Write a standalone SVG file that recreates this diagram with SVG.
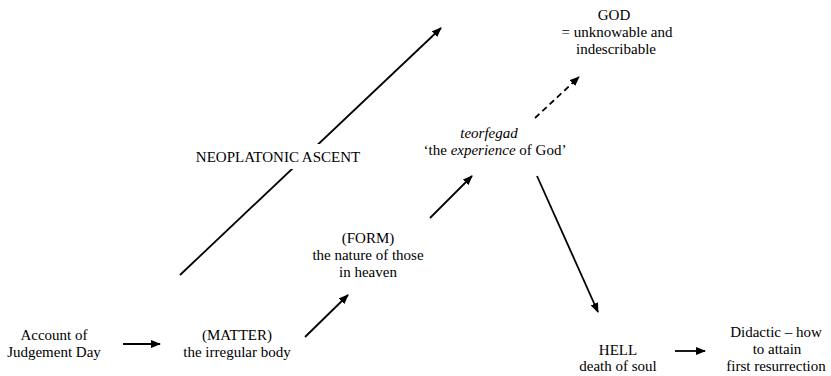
<svg xmlns="http://www.w3.org/2000/svg" width="831" height="376" viewBox="0 0 831 376">
<style>
.c line{stroke:#000;stroke-width:1.8;fill:none}
.dash{stroke-dasharray:6 4}
</style>
<defs>
<marker id="ah" markerWidth="10" markerHeight="8" refX="9" refY="4" orient="auto" markerUnits="userSpaceOnUse">
<path d="M0,0 L10,4 L0,8 Z" fill="#000"/>
</marker>
</defs>
<rect width="831" height="376" fill="#fff"/>
<g class="c" id="connectors">
<line x1="180" y1="275" x2="441" y2="28" marker-end="url(#ah)"/>
<rect x="190" y="144" width="178" height="25" fill="#fff"/>
<line x1="123" y1="344" x2="160" y2="344" marker-end="url(#ah)"/>
<line x1="305" y1="337" x2="348" y2="295" marker-end="url(#ah)"/>
<line x1="430" y1="218" x2="472" y2="176" marker-end="url(#ah)"/>
<line class="dash" x1="535" y1="118" x2="579" y2="77" marker-end="url(#ah)"/>
<line x1="537" y1="176" x2="598" y2="312" marker-end="url(#ah)"/>
<line x1="675" y1="351" x2="705" y2="351" marker-end="url(#ah)"/>
</g>
<g id="neoplatonic"><text x="278" y="162" font-family="serif" font-size="15" text-anchor="middle">NEOPLATONIC ASCENT</text></g>
<g id="account"><text x="54" y="340" font-family="serif" font-size="15" text-anchor="middle">Account of</text><text x="54" y="357" font-family="serif" font-size="15" text-anchor="middle">Judgement Day</text></g>
<g id="matter"><text x="237" y="340" font-family="serif" font-size="15" text-anchor="middle">(MATTER)</text><text x="237" y="357" font-family="serif" font-size="15" text-anchor="middle">the irregular body</text></g>
<g id="form"><text x="368" y="243" font-family="serif" font-size="15" text-anchor="middle">(FORM)</text><text x="368" y="260" font-family="serif" font-size="15" text-anchor="middle">the nature of those</text><text x="368" y="277" font-family="serif" font-size="15" text-anchor="middle">in heaven</text></g>
<g id="teorfegad"><text x="489" y="138" font-family="serif" font-size="15" text-anchor="middle" font-style="italic">teorfegad</text><text x="495" y="155" font-family="serif" font-size="15" text-anchor="middle">&#8216;the <tspan font-style="italic">experience</tspan> of God&#8217;</text></g>
<g id="god"><text x="614" y="20" font-family="serif" font-size="15" text-anchor="middle">GOD</text><text x="617" y="37" font-family="serif" font-size="15" text-anchor="middle">= unknowable and</text><text x="616" y="54" font-family="serif" font-size="15" text-anchor="middle">indescribable</text></g>
<g id="hell"><text x="618" y="355" font-family="serif" font-size="15" text-anchor="middle">HELL</text><text x="618" y="371" font-family="serif" font-size="15" text-anchor="middle">death of soul</text></g>
<g id="didactic"><text x="776" y="337" font-family="serif" font-size="15" text-anchor="middle">Didactic &#8211; how</text><text x="777" y="354" font-family="serif" font-size="15" text-anchor="middle">to attain</text><text x="776" y="371" font-family="serif" font-size="15" text-anchor="middle">first resurrection</text></g>
</svg>
